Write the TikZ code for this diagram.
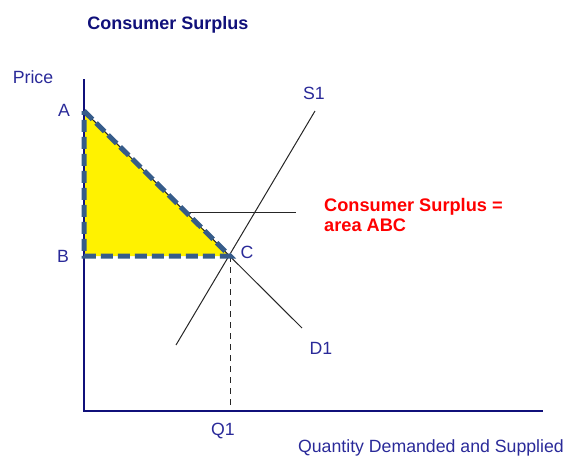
\documentclass[tikz,border=0pt]{standalone}
\usepackage{fontspec}
\setmainfont{Liberation Sans}
\definecolor{navy}{HTML}{10107A}
\definecolor{lblue}{HTML}{2A2A99}
\definecolor{edgeblue}{HTML}{365C8A}
\begin{document}
\begin{tikzpicture}[x=1pt,y=-1pt,
  lbl/.style={text=lblue,inner sep=0pt,font=\fontsize{17.7}{20}\selectfont},
  ttl/.style={text=navy,inner sep=0pt,font=\fontsize{18}{21}\selectfont\bfseries},
  redtxt/.style={text=red,inner sep=0pt,align=left,font=\fontsize{18.2}{20}\selectfont\bfseries},
  axisline/.style={draw=navy,line width=2.6pt},
  curve/.style={draw=black!85,line width=1pt},
  csedge/.style={draw=edgeblue,line width=5pt,dash pattern=on 12pt off 5pt,line join=miter}]
\useasboundingbox (0,0) rectangle (568,458);
% key points
\coordinate (A) at (84,111);
\coordinate (B) at (84,256);
\coordinate (C) at (230,256);
\coordinate (Ytop) at (84,79);
\coordinate (O) at (84,411);
\coordinate (Xend) at (543,411);
\coordinate (Dend) at (302,328);
\coordinate (Sstart) at (176,345);
\coordinate (Send) at (315,111);
\coordinate (Hstart) at (185,212);
\coordinate (Hend) at (296,212);
\coordinate (Qfoot) at (230,411);
% triangle
\fill[yellow] (A) -- (C) -- (B) -- cycle;
% curves
\draw[curve] (A) -- (Dend);
\draw[curve] (Sstart) -- (Send);
\draw[curve] (Hstart) -- (Hend);
\draw[black!85,line width=1pt,dash pattern=on 6pt off 5pt] (C) -- (Qfoot);
% axes
\draw[axisline] (Ytop) -- (O) -- (Xend);
% triangle edge
\draw[csedge] (A) -- (C) -- (B) -- cycle;
% labels
\node[ttl] (title) at (168,25) {Consumer Surplus};
\node[lbl] (price) at (33,77) {Price};
\node[lbl] (la) at (64,110) {A};
\node[lbl] (lb) at (63,256) {B};
\node[lbl] (lc) at (247,252) {C};
\node[lbl] (ls) at (314,93) {S1};
\node[lbl] (ld) at (321,348) {D1};
\node[lbl] (lq) at (223,431) {Q1};
\node[lbl,anchor=east] (lx) at (564,448) {Quantity Demanded and Supplied};
\node[redtxt,anchor=north west] (cs) at (324,198) {Consumer Surplus =\\area ABC};
\end{tikzpicture}
\end{document}
